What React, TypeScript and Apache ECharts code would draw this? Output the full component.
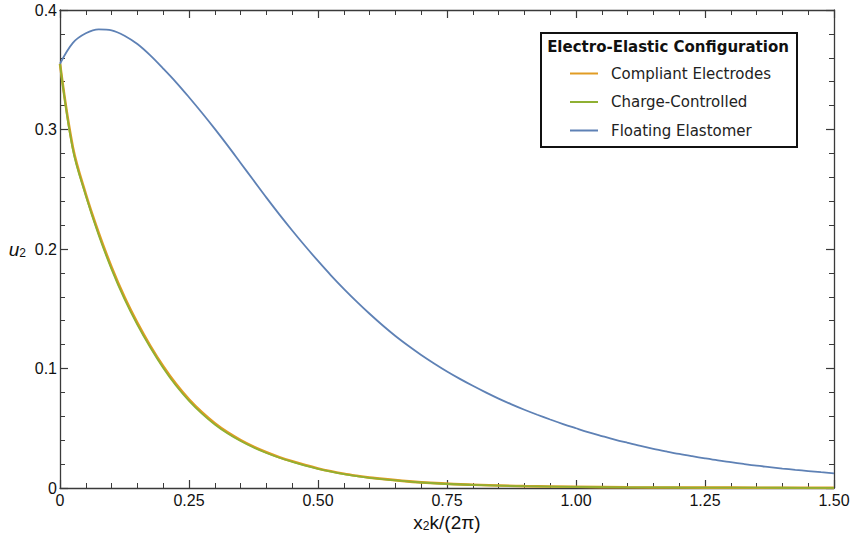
import React, { useEffect, useRef } from "react";
import * as echarts from "echarts";

const xTickLabels = ["0", "0.25", "0.50", "0.75", "1.00", "1.25", "1.50"];
const yTickLabels = ["0", "0.1", "0.2", "0.3", "0.4"];

const seriesNames = ["Compliant Electrodes", "Charge-Controlled", "Floating Elastomer"];
const seriesColors = ["#E19C24", "#8FB032", "#5E81B5"];

const xCompliant = [0, 0.025, 0.05, 0.075, 0.1, 0.125, 0.15, 0.175, 0.2, 0.225, 0.25, 0.275, 0.3, 0.325, 0.35, 0.375, 0.4, 0.425, 0.45, 0.475, 0.5, 0.525, 0.55, 0.575, 0.6, 0.7, 0.8, 0.9, 1.0, 1.1, 1.2, 1.3, 1.4, 1.5];
const yCompliant = [0.355, 0.285, 0.246, 0.2135, 0.1848, 0.1598, 0.1382, 0.119, 0.1019, 0.0869, 0.0742, 0.0634, 0.0542, 0.0465, 0.0401, 0.0346, 0.0299, 0.0258, 0.0223, 0.0192, 0.0164, 0.014, 0.0119, 0.0102, 0.0087, 0.0047, 0.0027, 0.0016, 0.001, 0.0006, 0.0004, 0.0003, 0.0002, 0.0001];

const xCharge = [0, 0.025, 0.05, 0.075, 0.1, 0.125, 0.15, 0.175, 0.2, 0.225, 0.25, 0.275, 0.3, 0.325, 0.35, 0.375, 0.4, 0.425, 0.45, 0.475, 0.5, 0.525, 0.55, 0.575, 0.6, 0.7, 0.8, 0.9, 1.0, 1.1, 1.2, 1.3, 1.4, 1.5];
const yCharge = [0.355, 0.283, 0.2445, 0.2115, 0.183, 0.158, 0.1365, 0.1175, 0.1005, 0.0856, 0.073, 0.0623, 0.0532, 0.0456, 0.0393, 0.0339, 0.0293, 0.0253, 0.0219, 0.0188, 0.0161, 0.0137, 0.0117, 0.01, 0.0085, 0.0046, 0.0026, 0.0015, 0.001, 0.0006, 0.0004, 0.0003, 0.0002, 0.0001];

const xFloating = [
  0, 0.025, 0.05, 0.075, 0.1, 0.125, 0.15, 0.175, 0.2, 0.225, 0.25, 0.275, 0.3, 0.325, 0.35, 0.375, 0.4, 0.425, 0.45, 0.475,
  0.5, 0.525, 0.55, 0.575, 0.6, 0.625, 0.65, 0.675, 0.7, 0.725, 0.75, 0.775, 0.8, 0.825, 0.85, 0.875, 0.9, 0.925, 0.95, 0.975,
  1.0, 1.025, 1.05, 1.075, 1.1, 1.125, 1.15, 1.175, 1.2, 1.225, 1.25, 1.275, 1.3, 1.325, 1.35, 1.375, 1.4, 1.425, 1.45, 1.475, 1.5,
];
const yFloating = [
  0.355, 0.3725, 0.3805, 0.3838, 0.383, 0.3785, 0.3715, 0.362, 0.351, 0.3395, 0.327, 0.314, 0.3005, 0.2865, 0.272, 0.2575, 0.243, 0.229, 0.2155, 0.2025,
  0.19, 0.178, 0.1667, 0.156, 0.1458, 0.1362, 0.1272, 0.119, 0.1113, 0.1042, 0.0975, 0.0913, 0.0855, 0.08, 0.0748, 0.07, 0.0655, 0.0613, 0.0573, 0.0535,
  0.05, 0.0466, 0.0435, 0.0405, 0.0378, 0.0352, 0.0328, 0.0306, 0.0285, 0.0266, 0.0248, 0.0231, 0.0216, 0.0201, 0.0187, 0.0175, 0.0163, 0.0152, 0.0142, 0.0132, 0.0123,
];

const pairs = (xs: number[], ys: number[]) => xs.map((x, i) => [x, ys[i]]);

export default function App() {
  const ref = useRef<HTMLDivElement>(null);
  useEffect(() => {
    if (!ref.current) return;
    const chart = echarts.init(ref.current, null, { renderer: "svg" });
    const axisLine = { show: true, onZero: false, lineStyle: { color: "#3a3a3a", width: 1.3 } };
    const tickLabelStyle = { fontFamily: "Liberation Sans", fontSize: 16, color: "#111" };
    const axisTick = { show: true, inside: true, length: 8, lineStyle: { color: "#3a3a3a", width: 1.2 } };
    const minorTick = { show: true, splitNumber: 5, length: 5, lineStyle: { color: "#3a3a3a", width: 1 } };
    const xCommon = {
      type: "value" as const,
      min: 0,
      max: 1.5,
      interval: 0.25,
      splitLine: { show: false },
      axisLine,
      axisTick,
      minorTick,
    };
    const yCommon = {
      type: "value" as const,
      min: 0,
      max: 0.4,
      interval: 0.1,
      splitLine: { show: false },
      axisLine,
      axisTick,
      minorTick,
    };
    const lineSeries = (name: string, color: string, data: number[][], width: number) => ({
      name,
      type: "line",
      data,
      showSymbol: false,
      symbol: "none",
      smooth: 0.35,
      xAxisIndex: 0,
      yAxisIndex: 0,
      lineStyle: { color, width },
      itemStyle: { color },
    });
    chart.setOption({
      animation: false,
      backgroundColor: "#ffffff",
      grid: { left: 60, right: 21, top: 10, bottom: 49, containLabel: false },
      xAxis: [
        {
          ...xCommon,
          position: "bottom",
          axisLabel: {
            ...tickLabelStyle,
            margin: 4,
            formatter: (v: number) => xTickLabels[Math.round(v / 0.25)] ?? "",
          },
          name: "{n|x}{s|2}{n|k/(2π)}",
          nameLocation: "middle",
          nameGap: 22,
          nameTextStyle: {
            rich: {
              n: { fontFamily: "Liberation Sans", fontSize: 19, color: "#111", verticalAlign: "bottom", lineHeight: 20 },
              s: { fontFamily: "Liberation Sans", fontSize: 12, color: "#111", verticalAlign: "bottom", lineHeight: 13 },
            },
          },
        },
        {
          ...xCommon,
          position: "top",
          axisLabel: { show: false },
        },
      ],
      yAxis: [
        {
          ...yCommon,
          position: "left",
          axisLabel: {
            ...tickLabelStyle,
            margin: 3,
            formatter: (v: number) => yTickLabels[Math.round(v / 0.1)] ?? "",
          },
          name: "{n|u}{s|2}",
          nameLocation: "middle",
          nameRotate: 0,
          nameGap: 34,
          nameTextStyle: {
            rich: {
              n: { fontFamily: "Liberation Sans", fontStyle: "italic", fontSize: 19, color: "#111", verticalAlign: "bottom", lineHeight: 20 },
              s: { fontFamily: "Liberation Sans", fontSize: 12, color: "#111", verticalAlign: "bottom", lineHeight: 13 },
            },
          },
        },
        {
          ...yCommon,
          position: "right",
          axisLabel: { show: false },
        },
      ],
      legend: {
        orient: "vertical",
        left: 565,
        top: 61,
        itemWidth: 28,
        itemHeight: 14,
        itemGap: 13.5,
        data: seriesNames.map((n, i) => ({
          name: n,
          icon: "path://M0,6 L28,6 L28,8 L0,8 Z",
          itemStyle: { color: seriesColors[i] },
        })),
        textStyle: { fontFamily: "DejaVu Sans", fontSize: 15, color: "#222", padding: [0, 0, 0, 8] },
      },
      graphic: [
        {
          type: "rect",
          shape: { x: 541, y: 33, width: 256, height: 114 },
          style: { fill: "#fff", stroke: "#111", lineWidth: 2 },
          z: 0,
        },
        {
          type: "text",
          x: 668,
          y: 47,
          style: {
            text: "Electro-Elastic Configuration",
            fontFamily: "DejaVu Sans",
            fontWeight: "bold",
            fontSize: 15,
            fill: "#111",
            align: "center",
            verticalAlign: "middle",
          },
          z: 1,
        },
      ],
      series: [
        lineSeries(seriesNames[0], seriesColors[0], pairs(xCompliant, yCompliant), 2.6),
        lineSeries(seriesNames[1], seriesColors[1], pairs(xCharge, yCharge), 1.8),
        lineSeries(seriesNames[2], seriesColors[2], pairs(xFloating, yFloating), 1.8),
      ],
    });
    return () => chart.dispose();
  }, []);
  return <div ref={ref} style={{ width: 855, height: 537, position: "absolute", left: 0, top: 0 }} />;
}
